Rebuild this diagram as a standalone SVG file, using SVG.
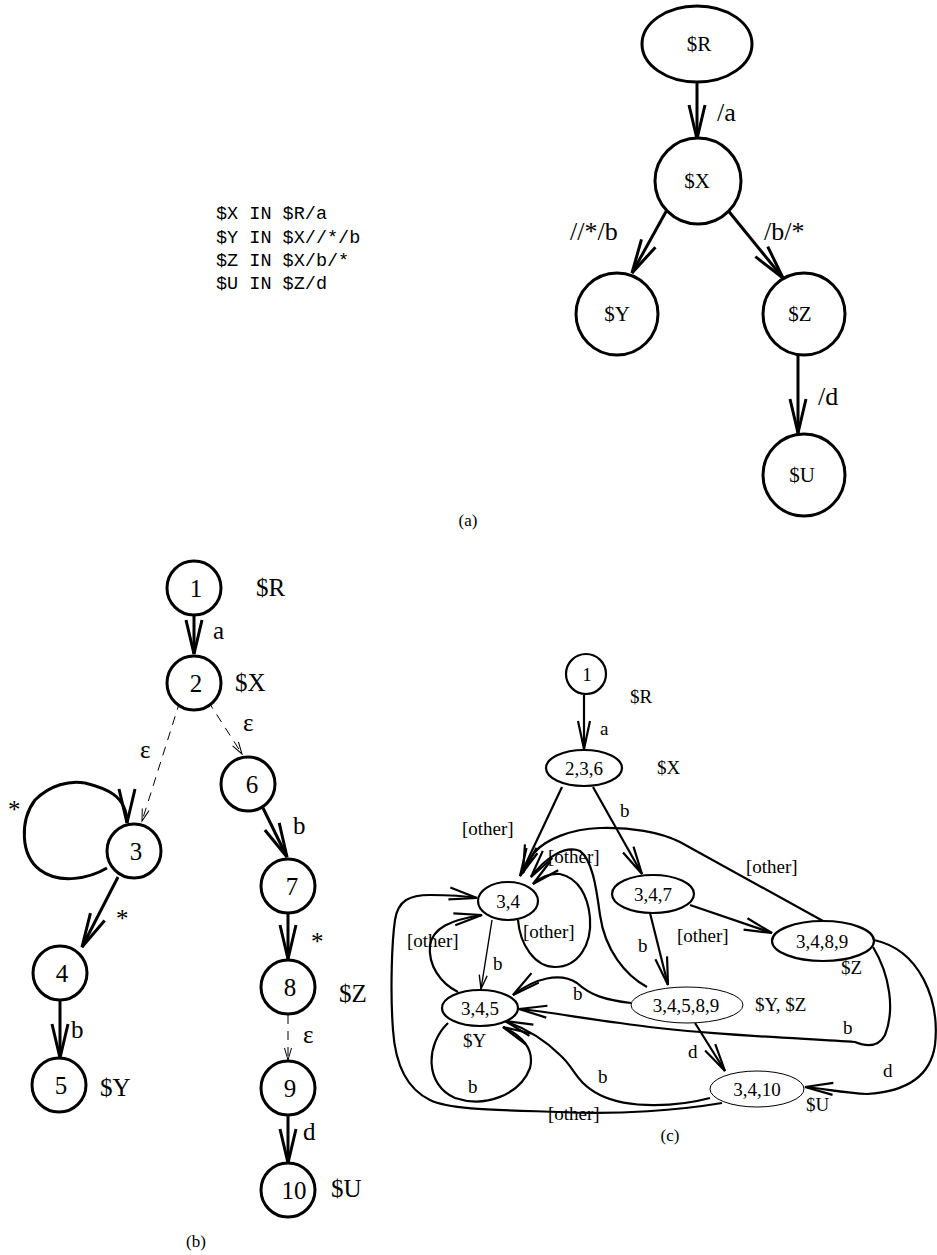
<svg xmlns="http://www.w3.org/2000/svg" width="937" height="1255" viewBox="0 0 937 1255">
<defs>
<style>
.n{fill:#fff;stroke:#000;stroke-width:3}
.nc{fill:#fff;stroke:#000;stroke-width:2.2}
.nt{fill:#fff;stroke:#000;stroke-width:1}
.e{fill:none;stroke:#000;stroke-width:3}
.ec{fill:none;stroke:#000;stroke-width:2.2}
.et{fill:none;stroke:#000;stroke-width:1.4}
.ed{fill:none;stroke:#000;stroke-width:1;stroke-dasharray:9 7}
text{font-family:"Liberation Serif","Times New Roman",serif;fill:#000}
.ta{font-size:21px;text-anchor:middle}
.la{font-size:26px}
.tb{font-size:25px;text-anchor:middle}
.lb{font-size:25px}
.tc{font-size:19px;text-anchor:middle}
.lc{font-size:19px}
.code{font-family:"Liberation Mono","Courier New",monospace;font-size:18.5px}
.cap{font-size:17px;text-anchor:middle}
</style>
<marker id="ah" viewBox="-40 -12 44 24" markerWidth="44" markerHeight="24" refX="0" refY="0" orient="auto" markerUnits="userSpaceOnUse" overflow="visible"><path d="M-34,-8 L0,0 L-34,8" fill="none" stroke="#000" stroke-width="3"/></marker>
<marker id="ac" viewBox="-34 -10 38 20" markerWidth="38" markerHeight="20" refX="0" refY="0" orient="auto" markerUnits="userSpaceOnUse" overflow="visible"><path d="M-28,-6 L0,0 L-28,6" fill="none" stroke="#000" stroke-width="2.2"/></marker>
<marker id="at" viewBox="-20 -8 24 16" markerWidth="24" markerHeight="16" refX="0" refY="0" orient="auto" markerUnits="userSpaceOnUse" overflow="visible"><path d="M-14,-4 L0,0 L-14,4" fill="none" stroke="#000" stroke-width="1.4"/></marker>
<marker id="ad" viewBox="-16 -6 20 12" markerWidth="20" markerHeight="12" refX="0" refY="0" orient="auto" markerUnits="userSpaceOnUse" overflow="visible"><path d="M-12,-3.5 L0,0 L-12,3.5" fill="none" stroke="#000" stroke-width="1"/></marker>
</defs>
<rect width="937" height="1255" fill="#fff"/>

<!-- (a) -->
<g id="code">
<text class="code" x="216" y="219">$X IN $R/a</text>
<text class="code" x="216" y="243">$Y IN $X//*/b</text>
<text class="code" x="216" y="266">$Z IN $X/b/*</text>
<text class="code" x="216" y="289">$U IN $Z/d</text>
</g>
<g id="a-connectors">
<path class="e" d="M697,82 L697,139" marker-end="url(#ah)"/>
<path class="e" d="M668,208 L632,273" marker-end="url(#ah)"/>
<path class="e" d="M726,208 L783,278" marker-end="url(#ah)"/>
<path class="e" d="M798,356 L798,433" marker-end="url(#ah)"/>
<text class="la" x="717" y="121">/a</text>
<text class="la" x="570" y="240">//*/b</text>
<text class="la" x="764" y="240">/b/*</text>
<text class="la" x="818" y="405">/d</text>
</g>
<g id="a-R"><ellipse class="n" cx="697" cy="44" rx="55" ry="38"/><text class="ta" x="699" y="51">$R</text></g>
<g id="a-X"><circle class="n" cx="698" cy="181" r="43"/><text class="ta" x="697" y="188">$X</text></g>
<g id="a-Y"><circle class="n" cx="617" cy="314" r="41"/><text class="ta" x="617" y="321">$Y</text></g>
<g id="a-Z"><circle class="n" cx="804" cy="314" r="41"/><text class="ta" x="800" y="321">$Z</text></g>
<g id="a-U"><circle class="n" cx="804" cy="475" r="41"/><text class="ta" x="802" y="482">$U</text></g>
<text class="cap" x="468" y="526">(a)</text>

<!-- (b) -->
<g id="b-connectors">
<path class="e" d="M194,615 L194,654" marker-end="url(#ah)"/>
<path class="ed" d="M180,701 L142,821" marker-end="url(#ad)"/>
<path class="ed" d="M208,701 L242,754" marker-end="url(#ad)"/>
<path class="e" d="M263,808 L287,857" marker-end="url(#ah)"/>
<path class="e" d="M107,868 C90,878 60,885 40,870 C20,855 20,820 35,800 C50,785 70,780 85,783 C105,788 127,795 127,823" marker-end="url(#ah)"/>
<path class="e" d="M118,877 L82,947" marker-end="url(#ah)"/>
<path class="e" d="M60,1000 L60,1058" marker-end="url(#ah)"/>
<path class="e" d="M288,913 L288,959" marker-end="url(#ah)"/>
<path class="ed" d="M288,1015 L288,1060" marker-end="url(#ad)"/>
<path class="e" d="M288,1115 L288,1163" marker-end="url(#ah)"/>
<text class="lb" x="213" y="639">a</text>
<text class="lb" x="243" y="731">ε</text>
<text class="lb" x="140" y="758">ε</text>
<text class="lb" x="293" y="834">b</text>
<text class="lb" x="8" y="818">*</text>
<text class="lb" x="116" y="927">*</text>
<text class="lb" x="71" y="1038">b</text>
<text class="lb" x="311" y="950">*</text>
<text class="lb" x="303" y="1043">ε</text>
<text class="lb" x="303" y="1140">d</text>
</g>
<g id="b-1"><circle class="n" cx="194" cy="588" r="27"/><text class="tb" x="196" y="597">1</text></g>
<g id="b-2"><circle class="n" cx="194" cy="683" r="27"/><text class="tb" x="196" y="692">2</text></g>
<g id="b-3"><circle class="n" cx="134" cy="851" r="27"/><text class="tb" x="136" y="860">3</text></g>
<g id="b-4"><circle class="n" cx="60" cy="973" r="27"/><text class="tb" x="62" y="982">4</text></g>
<g id="b-5"><circle class="n" cx="59" cy="1085" r="27"/><text class="tb" x="61" y="1094">5</text></g>
<g id="b-6"><circle class="n" cx="248" cy="784" r="27"/><text class="tb" x="252" y="793">6</text></g>
<g id="b-7"><circle class="n" cx="288" cy="886" r="27"/><text class="tb" x="292" y="895">7</text></g>
<g id="b-8"><circle class="n" cx="288" cy="987" r="27"/><text class="tb" x="290" y="996">8</text></g>
<g id="b-9"><circle class="n" cx="288" cy="1088" r="27"/><text class="tb" x="290" y="1097">9</text></g>
<g id="b-10"><circle class="n" cx="288" cy="1190" r="27"/><text class="tb" x="294" y="1199">10</text></g>
<g id="b-vars">
<text class="lb" x="256" y="596">$R</text>
<text class="lb" x="235" y="691">$X</text>
<text class="lb" x="339" y="1002">$Z</text>
<text class="lb" x="331" y="1197">$U</text>
<text class="lb" x="100" y="1096">$Y</text>
</g>
<text class="cap" x="196" y="1247">(b)</text>

<!-- (c) -->
<g id="c-connectors">
<path class="ec" d="M584,695 L584,749" marker-end="url(#ac)"/>
<path class="ec" d="M562,787 L520,876" marker-end="url(#ac)"/>
<path class="ec" d="M593,787 L642,874" marker-end="url(#ac)"/>
<path class="ec" d="M823,921 L680,842 C660,832 630,827 600,828 C570,829 545,840 535,852 C528,860 525,866 523,873" marker-end="url(#ac)"/>
<path class="ec" d="M647,987 C625,975 605,950 600,915 C596,885 592,860 580,851 C565,845 545,858 531,877" marker-end="url(#ac)"/>
<path class="ec" d="M518,920 C520,945 535,967 555,967 C578,967 592,945 590,918 C588,895 578,878 560,874 C550,873 540,878 533,884" marker-end="url(#ac)"/>
<path class="et" d="M492,920 L481,989" marker-end="url(#at)"/>
<path class="ec" d="M458,992 C440,983 428,965 430,945 C433,928 450,920 482,915" marker-end="url(#ac)"/>
<path class="ec" d="M722,1103 C680,1110 620,1115 560,1112 C500,1110 450,1110 430,1100 C405,1088 395,1060 393,1030 C390,990 392,940 395,920 C398,900 410,895 430,895 C450,895 465,896 477,898" marker-end="url(#ac)"/>
<path class="ec" d="M650,913 L668,985" marker-end="url(#ac)"/>
<path class="ec" d="M690,905 L772,933" marker-end="url(#ac)"/>
<path class="ec" d="M631,1003 C605,1000 590,995 577,983 C560,972 535,978 513,995" marker-end="url(#ac)"/>
<path class="ec" d="M873,947 C890,975 895,1010 885,1035 C878,1048 865,1046 855,1042 C800,1038 700,1035 620,1023 C580,1018 550,1012 519,1009" marker-end="url(#ac)"/>
<path class="ec" d="M695,1023 L725,1071" marker-end="url(#ac)"/>
<path class="ec" d="M874,940 C920,950 940,1000 935,1045 C930,1080 900,1092 867,1094 C845,1093 820,1088 805,1087" marker-end="url(#ac)"/>
<path class="ec" d="M710,1098 C680,1106 630,1110 600,1095 C575,1082 575,1068 560,1055 C545,1040 525,1028 505,1021" marker-end="url(#ac)"/>
<path class="ec" d="M448,1023 C425,1045 425,1085 455,1098 C485,1108 520,1095 530,1068 C535,1048 520,1035 503,1027" marker-end="url(#ac)"/>
<text class="lc" x="600" y="735">a</text>
<text class="lc" x="462" y="835">[other]</text>
<text class="lc" x="620" y="817">b</text>
<text class="lc" x="746" y="873">[other]</text>
<text class="lc" x="548" y="863">[other]</text>
<text class="lc" x="523" y="938">[other]</text>
<text class="lc" x="407" y="947">[other]</text>
<text class="lc" x="677" y="942">[other]</text>
<text class="lc" x="493" y="970">b</text>
<text class="lc" x="638" y="952">b</text>
<text class="lc" x="573" y="1000">b</text>
<text class="lc" x="843" y="1034">b</text>
<text class="lc" x="688" y="1058">d</text>
<text class="lc" x="883" y="1077">d</text>
<text class="lc" x="598" y="1083">b</text>
<text class="lc" x="468" y="1093">b</text>
<text class="lc" x="548" y="1120">[other]</text>
</g>
<g id="c-1"><circle class="nc" cx="586" cy="674" r="20"/><text class="tc" x="587" y="681">1</text></g>
<g id="c-236"><ellipse class="nc" cx="584" cy="768" rx="38" ry="18"/><text class="tc" x="584" y="775">2,3,6</text></g>
<g id="c-34"><ellipse class="nc" cx="508" cy="901" rx="30" ry="19"/><text class="tc" x="508" y="908">3,4</text></g>
<g id="c-347"><ellipse class="nc" cx="653" cy="894" rx="41" ry="19"/><text class="tc" x="653" y="901">3,4,7</text></g>
<g id="c-345"><ellipse class="nc" cx="480" cy="1008" rx="38" ry="18"/><text class="tc" x="480" y="1015">3,4,5</text></g>
<g id="c-3489"><ellipse class="nc" cx="823" cy="941" rx="51" ry="20"/><text class="tc" x="822" y="948">3,4,8,9</text></g>
<g id="c-34589"><ellipse class="nt" cx="687" cy="1005" rx="56" ry="18"/><text class="tc" x="686" y="1012">3,4,5,8,9</text></g>
<g id="c-3410"><ellipse class="nt" cx="757" cy="1089" rx="47" ry="18"/><text class="tc" x="757" y="1096">3,4,10</text></g>
<g id="c-vars">
<text class="lc" x="630" y="703">$R</text>
<text class="lc" x="657" y="774">$X</text>
<text class="lc" x="463" y="1047">$Y</text>
<text class="lc" x="755" y="1011">$Y, $Z</text>
<text class="lc" x="841" y="974">$Z</text>
<text class="lc" x="806" y="1111">$U</text>
</g>
<text class="cap" x="670" y="1141">(c)</text>
</svg>
